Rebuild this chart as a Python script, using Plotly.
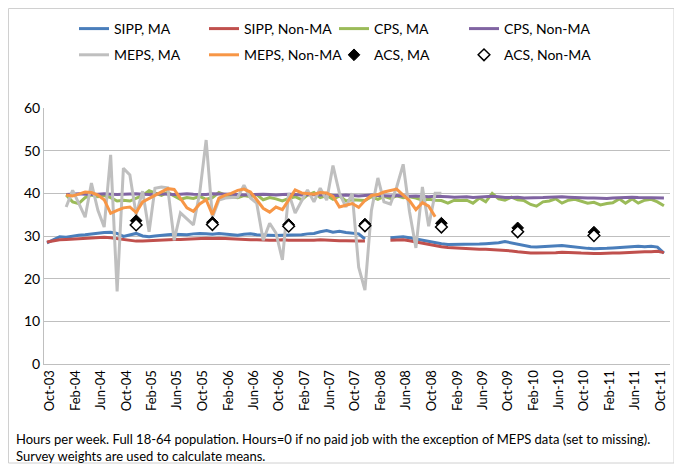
import pandas as pd
import plotly.graph_objects as go

# ---- categories: monthly, Oct-2003 .. Nov-2011 ----
months = list(pd.date_range("2003-10-01", "2011-11-01", freq="MS"))

tick_dates = list(pd.date_range("2003-10-01", "2011-10-01", freq="4MS"))
tick_labels = ["Oct-03", "Feb-04", "Jun-04", "Oct-04", "Feb-05", "Jun-05", "Oct-05",
               "Feb-06", "Jun-06", "Oct-06", "Feb-07", "Jun-07", "Oct-07", "Feb-08",
               "Jun-08", "Oct-08", "Feb-09", "Jun-09", "Oct-09", "Feb-10", "Jun-10",
               "Oct-10", "Feb-11", "Jun-11", "Oct-11"]

# ---- series values (start month index, values) ----
sipp_ma_a_start = 0
sipp_ma_a = [28.4, 29.2, 29.8, 29.7, 30.0, 30.2, 30.3, 30.5, 30.7, 30.8, 30.9, 30.6, 29.9,
             30.2, 30.6, 30.0, 29.8, 30.0, 30.2, 30.3, 30.4, 30.4, 30.3, 30.5, 30.6, 30.5,
             30.4, 30.6, 30.5, 30.3, 30.2, 30.4, 30.5, 30.3, 30.2, 30.1, 30.1, 30.2, 30.2,
             30.2, 30.3, 30.5, 30.6, 31.0, 31.3, 30.9, 31.1, 30.8, 30.6, 30.5, 29.3]
sipp_ma_b_start = 54
sipp_ma_b = [29.6, 29.7, 29.8, 29.6, 29.3, 29.0, 28.7, 28.4, 28.2, 28.0, 28.0, 28.0, 28.1,
             28.1, 28.1, 28.2, 28.3, 28.4, 28.7, 28.4, 28.0, 27.7, 27.5, 27.4, 27.5, 27.6,
             27.7, 27.8, 27.6, 27.4, 27.2, 27.1, 27.0, 27.0, 27.1, 27.2, 27.3, 27.5, 27.6,
             27.6, 27.5, 27.6, 27.4, 26.0]

sipp_non_a_start = 0
sipp_non_a = [28.6, 28.9, 29.1, 29.2, 29.3, 29.4, 29.5, 29.6, 29.7, 29.7, 29.6, 29.4, 29.1,
              28.9, 28.8, 28.8, 28.9, 29.0, 29.1, 29.1, 29.2, 29.2, 29.3, 29.4, 29.4, 29.5,
              29.4, 29.5, 29.4, 29.3, 29.2, 29.2, 29.1, 29.1, 29.0, 29.0, 29.0, 29.1, 29.0,
              29.0, 28.9, 29.0, 29.0, 29.1, 29.0, 29.0, 28.9, 28.9, 28.8, 28.8, 28.8]
sipp_non_b_start = 54
sipp_non_b = [29.0, 29.0, 29.1, 28.9, 28.6, 28.3, 28.0, 27.7, 27.5, 27.3, 27.2, 27.1, 27.0,
              27.0, 26.9, 26.9, 26.8, 26.8, 26.7, 26.5, 26.3, 26.1, 26.0, 26.0, 26.0, 26.1,
              26.1, 26.2, 26.2, 26.1, 26.0, 25.9, 25.9, 25.9, 26.0, 26.0, 26.0, 26.1, 26.2,
              26.2, 26.3, 26.3, 26.4, 26.1]

cps_ma_start = 3
cps_ma = [39.6, 38.0, 37.6, 39.0, 39.6, 39.2, 39.5, 39.0, 38.2, 38.4, 38.2, 38.9, 39.5,
          40.6, 40.0, 39.5, 40.2, 39.4, 38.6, 39.0, 38.8, 39.3, 38.6, 39.0, 40.2, 39.6,
          39.2, 39.0, 39.5, 39.2, 39.7, 38.5, 39.0, 38.7, 38.2, 38.8, 39.2, 38.5, 39.6,
          40.2, 39.0, 39.5, 38.6, 39.4, 38.2, 38.5, 38.4, 38.3, 39.2, 38.6, 39.3, 38.8,
          39.4, 39.0, 39.2, 38.9, 38.4, 38.6, 38.4, 38.3, 37.7, 38.4, 38.3, 38.4, 37.7,
          38.9, 38.0, 40.0, 38.7, 38.4, 39.1, 38.5, 38.3, 37.4, 37.0, 38.0, 38.2, 38.7,
          37.7, 38.4, 38.6, 38.2, 37.7, 37.9, 37.3, 37.6, 37.8, 38.7, 37.7, 38.7, 37.7,
          38.4, 38.6, 38.0, 37.1]

cps_non_start = 3
cps_non = [39.7, 39.8, 39.9, 39.8, 39.7, 39.8, 39.9, 39.8, 39.7, 39.8, 39.9, 39.9, 39.8,
           39.7, 39.8, 39.9, 39.8, 39.7, 39.8, 39.9, 39.8, 39.8, 39.7, 39.9, 39.9, 39.8,
           39.8, 39.7, 39.6, 39.7, 39.8, 39.8, 39.7, 39.6, 39.7, 39.8, 39.7, 39.6, 39.7,
           39.6, 39.6, 39.7, 39.5, 39.5, 39.6, 39.5, 39.4, 39.5, 39.6, 39.5, 39.4, 39.4,
           39.5, 39.4, 39.3, 39.4, 39.3, 39.2, 39.3, 39.3, 39.2, 39.1, 39.2, 39.2, 39.0,
           39.1, 39.2, 39.3, 39.2, 39.0, 39.0, 39.1, 38.9, 38.9, 38.9, 39.0, 39.1, 39.2,
           39.2, 39.1, 39.0, 38.9, 38.9, 38.9, 38.8, 38.8, 38.9, 39.0, 39.1, 39.1, 39.0,
           39.0, 38.9, 38.9, 38.9]

meps_ma_start = 3
meps_ma = [36.8, 40.7, 37.7, 34.4, 42.4, 36.0, 32.1, 49.0, 17.0, 45.9,
           44.3, 35.0, 40.5, 31.0, 41.2, 41.5, 41.3, 29.0, 35.4, 34.0,
           32.6, 40.0, 52.5, 34.4, 38.4, 38.9, 39.0, 39.1, 41.9, 38.9,
           37.7, 29.0, 33.0, 30.7, 24.4, 40.0, 35.4, 38.4, 40.8, 38.0,
           41.2, 38.4, 46.5, 40.0, 36.8, 40.0, 22.7, 17.3, 36.0, 43.6,
           38.0, 37.5, 41.5, 46.8, 35.8, 27.2, 41.5, 32.3, 40.0, 40.0]

meps_non_start = 3
meps_non = [39.6, 39.4, 39.8, 40.3, 40.2, 39.6, 38.5, 35.3, 36.0, 36.6, 36.8, 35.5, 38.0,
            38.8, 39.5, 40.4, 41.1, 40.9, 38.9, 36.6, 35.8, 37.5, 38.5, 35.0, 38.9, 39.6,
            40.0, 40.7, 41.0, 40.3, 38.5, 36.5, 35.6, 36.8, 36.2, 38.5, 40.8, 40.1, 40.0,
            39.8, 40.2, 40.1, 39.3, 36.8, 37.2, 37.6, 36.7, 38.3, 39.5, 39.7, 40.3, 40.7,
            41.0, 39.6, 38.3, 36.2, 37.8, 37.0, 34.5]

acs_months = [14, 26, 38, 50, 62, 74, 86]   # Dec-04 .. Dec-10
acs_ma = [33.6, 33.2, 32.7, 32.8, 33.0, 31.9, 30.9]
acs_non = [32.6, 32.7, 32.3, 32.4, 32.1, 31.0, 30.1]

note_text = ("Hours per week. Full 18-64 population. Hours=0 if no paid job with the exception "
             "of MEPS data (set to missing).<br>Survey weights are used to calculate means.")


def xs(start, vals):
    return months[start:start + len(vals)]


FONT = "Lato, 'Liberation Sans', sans-serif"
fig = go.Figure()

def line(name, start, vals, color, legend, show=True, group=None):
    fig.add_trace(go.Scatter(x=xs(start, vals), y=vals, mode="lines", name=name,
                             line=dict(color=color, width=3), legend=legend,
                             showlegend=show, legendgroup=group or name))

# legend columns: 1 = SIPP MA / MEPS MA, 2 = SIPP Non-MA / MEPS Non-MA,
# 3 = CPS MA / ACS MA, 4 = CPS Non-MA / ACS Non-MA
line("SIPP, MA", sipp_ma_a_start, sipp_ma_a, "#4A7EBB", "legend", True, "sippma")
line("SIPP, MA", sipp_ma_b_start, sipp_ma_b, "#4A7EBB", "legend", False, "sippma")
line("SIPP, Non-MA", sipp_non_a_start, sipp_non_a, "#C0504D", "legend2", True, "sippnon")
line("SIPP, Non-MA", sipp_non_b_start, sipp_non_b, "#C0504D", "legend2", False, "sippnon")
line("CPS, MA", cps_ma_start, cps_ma, "#9BBB59", "legend3")
line("CPS, Non-MA", cps_non_start, cps_non, "#8064A2", "legend4")
line("MEPS, MA", meps_ma_start, meps_ma, "#BFBFBF", "legend")
line("MEPS, Non-MA", meps_non_start, meps_non, "#F79646", "legend2")

fig.add_trace(go.Scatter(x=[months[i] for i in acs_months], y=acs_ma, mode="markers",
                         name="ACS, MA", legend="legend3", legendgroup="acsma",
                         marker=dict(symbol="diamond", size=9, color="black",
                                     line=dict(color="black", width=1))))
fig.add_trace(go.Scatter(x=[months[i] for i in acs_months], y=acs_non, mode="markers",
                         name="ACS, Non-MA", legend="legend4", legendgroup="acsnon",
                         marker=dict(symbol="diamond", size=9, color="white",
                                     line=dict(color="black", width=1.5))))

# figure is placed 8px into the page (body margin); coordinates below are figure pixels
W, H = 674, 462
L, R, T, B = 36, 12, 100, 106
pw, ph = W - L - R, H - T - B

def px_x(p):
    return (p - L) / pw

def px_y(p):
    return (H - B - p) / ph

leg_common = dict(orientation="v", font=dict(family=FONT, size=14, color="#000"),
                  bgcolor="rgba(0,0,0,0)", xanchor="left", yanchor="top", itemwidth=30,
                  traceorder="grouped", tracegroupgap=5)

LEG_TOP = 5
fig.update_layout(
    width=W, height=H,
    margin=dict(l=L, r=R, t=T, b=B, autoexpand=False),
    paper_bgcolor="white", plot_bgcolor="white",
    font=dict(family=FONT, size=13, color="#000"),
    legend=dict(x=px_x(66), y=px_y(LEG_TOP), **leg_common),
    legend2=dict(x=px_x(196), y=px_y(LEG_TOP), **leg_common),
    legend3=dict(x=px_x(326), y=px_y(LEG_TOP), **leg_common),
    legend4=dict(x=px_x(456), y=px_y(LEG_TOP), **leg_common),
    xaxis=dict(range=["2003-09-17", "2011-11-30"], tickvals=tick_dates, ticktext=tick_labels,
               tickangle=-90, showgrid=False, showline=True, linecolor="#BFBFBF",
               ticks="", tickfont=dict(size=13), zeroline=False, automargin=False,
               ticklabelshift=3),
    yaxis=dict(range=[0, 60], dtick=10, showgrid=True, gridcolor="#BFBFBF", gridwidth=1,
               showline=True, linecolor="#BFBFBF", zeroline=False, ticks="",
               tickfont=dict(size=14), automargin=False),
    shapes=[dict(type="rect", xref="paper", yref="paper",
                 x0=px_x(0.5), x1=px_x(666), y0=px_y(455), y1=px_y(0.5),
                 line=dict(color="#D0D0D0", width=1), fillcolor="rgba(0,0,0,0)")],
    annotations=[dict(text=note_text, xref="paper", yref="paper", x=px_x(6), y=px_y(421),
                      xanchor="left", yanchor="top", align="left", showarrow=False,
                      font=dict(family=FONT, size=13, color="#000"))],
    showlegend=True,
)

fig.write_html("out.html")
